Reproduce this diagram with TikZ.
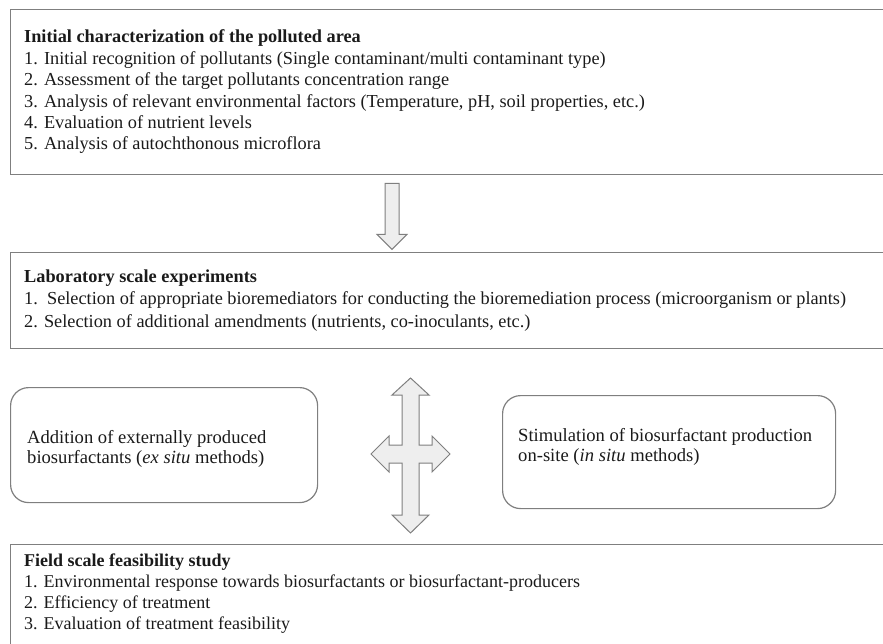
\documentclass[tikz,border=0pt]{standalone}
\usepackage{fontspec}
\setmainfont{Liberation Serif}
\usetikzlibrary{calc}
\definecolor{frameGray}{HTML}{7F7F7F}
\definecolor{arrowFill}{HTML}{EEEEEE}
\definecolor{textColor}{HTML}{1A1A1A}

\begin{document}
\begin{tikzpicture}[x=1pt, y=-1pt,
    frame/.style={draw=frameGray, line width=1.4pt, anchor=north west,
        inner sep=0pt, minimum width=900pt},
    roundframe/.style={draw=frameGray, line width=1.2pt, rounded corners=18pt,
        anchor=north west, inner sep=0pt},
    txt/.style={anchor=base west, inner sep=0pt, text=textColor,
        font=\fontsize{#1}{22}\selectfont},
    txt/.default=18.3,
    title/.style={txt=#1, font=\fontsize{#1}{22}\selectfont\bfseries},
    title/.default=18.3,
    blockarrow/.style={draw=frameGray, fill=arrowFill, line width=1pt}]
    \path[use as bounding box, clip] (0,0) rectangle (883,644);

    % boxes
    \node[frame, minimum height=165pt] (charact) at (10,9) {};
    \node[frame, minimum height=96pt] (labscale) at (10,252) {};
    \node[roundframe, minimum width=307pt, minimum height=115pt] (exsitu) at (10,387) {};
    \node[roundframe, minimum width=333pt, minimum height=113pt] (insitu) at (502,395) {};
    \node[frame, minimum height=120pt] (fieldscale) at (10,544) {};

    % texts
    \node[title] (charact-title) at ([shift={(14,34)}]charact.north west)
        {Initial characterization of the polluted area};
    \foreach \txt [count=\i] in {%
        {1. Initial recognition of pollutants (Single contaminant/multi contaminant type)},
        {2. Assessment of the target pollutants concentration range},
        {3. Analysis of relevant environmental factors (Temperature, pH, soil properties, etc.)},
        {4. Evaluation of nutrient levels},
        {5. Analysis of autochthonous microflora}}
        \node[txt] (charact-\i) at ([shift={(14,{34+21.4*\i})}]charact.north west) {\txt};

    \node[title] (labscale-title) at ([shift={(14,31)}]labscale.north west)
        {Laboratory scale experiments};
    \foreach \txt [count=\i] in {%
        {1.\ \ Selection of appropriate bioremediators for conducting the bioremediation process (microorganism or plants)},
        {2. Selection of additional amendments (nutrients, co-inoculants, etc.)}}
        \node[txt] (labscale-\i) at ([shift={(14,{31+22*\i})}]labscale.north west) {\txt};

    \node[txt=18.6] (exsitu-1) at ([shift={(17,56)}]exsitu.north west)
        {Addition of externally produced};
    \node[txt=18.6] (exsitu-2) at ([shift={(17,76)}]exsitu.north west)
        {biosurfactants (\textit{ex situ} methods)};
    \node[txt=18.6] (insitu-1) at ([shift={(16,46)}]insitu.north west)
        {Stimulation of biosurfactant production};
    \node[txt=18.6] (insitu-2) at ([shift={(16,66)}]insitu.north west)
        {on-site (\textit{in situ} methods)};

    \node[title=18] (fieldscale-title) at ([shift={(14,22)}]fieldscale.north west)
        {Field scale feasibility study};
    \foreach \txt [count=\i] in {%
        {1. Environmental response towards biosurfactants or biosurfactant-producers},
        {2. Efficiency of treatment},
        {3. Evaluation of treatment feasibility}}
        \node[txt=18] (fieldscale-\i) at ([shift={(14,{22+21.3*\i})}]fieldscale.north west) {\txt};

    % arrows
    \draw[blockarrow, shift={(charact.south west)}]
        (375,8) -- (389,8) -- (389,59) -- (397,59) -- (382,74)
        -- (367,59) -- (375,59) -- cycle;
    \coordinate (hub) at (410.5,454);
    \draw[blockarrow, shift={(hub)}]
        (0,-76) -- (18.5,-59) -- (8.5,-59) -- (8.5,-9) -- (21.5,-9) -- (21.5,-18)
        -- (39.5,0) -- (21.5,18) -- (21.5,9) -- (8.5,9) -- (8.5,61) -- (18.5,61)
        -- (0,79) -- (-18.5,61) -- (-8.5,61) -- (-8.5,9) -- (-21.5,9) -- (-21.5,18)
        -- (-39.5,0) -- (-21.5,-18) -- (-21.5,-9) -- (-8.5,-9) -- (-8.5,-59)
        -- (-18.5,-59) -- cycle;
\end{tikzpicture}
\end{document}
